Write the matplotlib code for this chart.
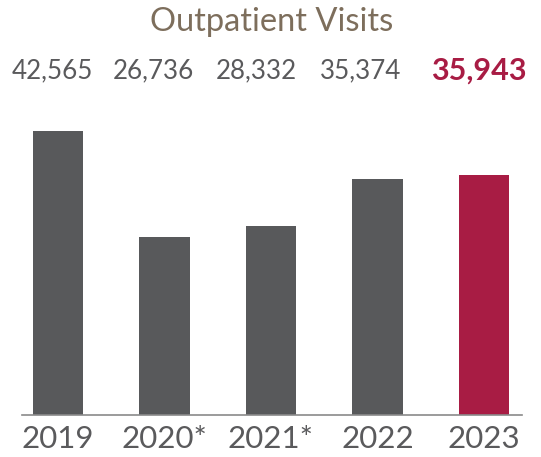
import matplotlib
matplotlib.use("Agg")
import matplotlib.pyplot as plt

years = ["2019", "2020*", "2021*", "2022", "2023"]
visits = [42565, 26736, 28332, 35374, 35943]
value_labels = ["42,565", "26,736", "28,332", "35,374", "35,943"]

GREY = "#58595b"
RED = "#a81c44"
TEXT_GREY = "#5a5a5c"
TITLE_COLOR = "#7d6e5c"

plt.rcParams["font.family"] = ["Lato", "DejaVu Sans"]

fig = plt.figure(figsize=(5.41, 4.57), dpi=100)
W, H = 541, 457
left, right, top, bottom = 22, 522, 100, 415
ax = fig.add_axes([left / W, 1 - bottom / H, (right - left) / W, (bottom - top) / H])

colors = [GREY] * (len(years) - 1) + [RED]
x = list(range(len(years)))
ax.bar(x, visits, width=0.47, color=colors)

ax.set_xlim(-0.338, 4.357)
ax.set_ylim(0, visits[0] * (bottom - top) / (bottom - 131))

for s in ["top", "right", "left"]:
    ax.spines[s].set_visible(False)
ax.spines["bottom"].set_color("#8a8a8a")
ax.spines["bottom"].set_linewidth(1.2)
ax.set_yticks([])
ax.set_xticks(x)
ax.set_xticklabels(years, fontsize=22.5, color=TEXT_GREY)
ax.tick_params(axis="x", length=0, pad=7)

# values row above the bars
label_x = [52, 153, 256, 361, 479]
for i, (lx, lab) in enumerate(zip(label_x, value_labels)):
    last = i == len(value_labels) - 1
    fig.text(lx / W, 1 - 71 / H, lab, ha="center", va="center",
             fontsize=22 if last else 18.7,
             fontweight="bold" if last else "normal",
             color=RED if last else TEXT_GREY)

fig.text(272 / W, 1 - 22 / H, "Outpatient Visits", ha="center", va="center",
         fontsize=23.5, color=TITLE_COLOR)

fig.savefig("out.png", dpi=100)
